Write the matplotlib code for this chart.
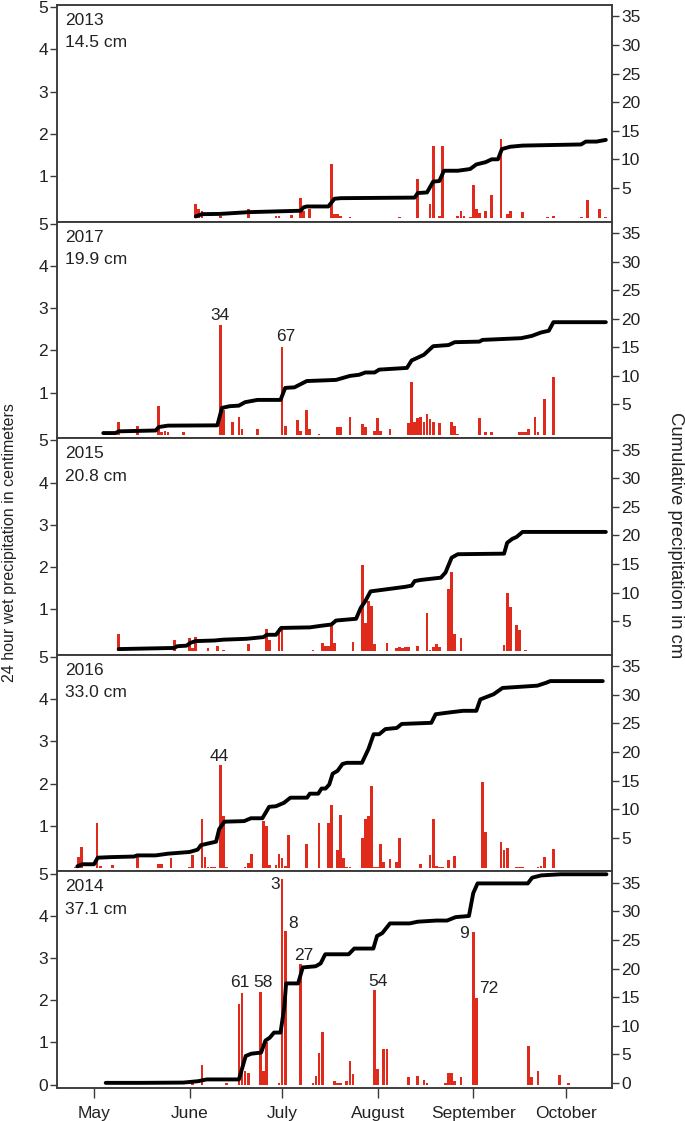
import matplotlib
matplotlib.use("Agg")
import matplotlib.pyplot as plt

plt.rcParams['font.family'] = ['Liberation Sans', 'DejaVu Sans']

# panel order top to bottom
years = ["2013", "2017", "2015", "2016", "2014"]
totals = ["14.5 cm", "19.9 cm", "20.8 cm", "33.0 cm", "37.1 cm"]

month_names = ["May", "June", "July", "August", "September", "October"]
month_days = [121, 152, 182, 213, 244, 274]  # day of year of the 1st

# --- 2013 ---
days_2013 = [154, 155, 156, 162, 171, 180, 181, 185, 188, 189, 191, 198, 199, 200, 201, 204,
             220, 226, 230, 231, 233, 234, 239, 240, 241, 243, 244, 245, 246, 248, 250, 253,
             255, 256, 260, 268, 270, 279, 281, 285, 287]
rain_2013 = [0.33, 0.23, 0.18, 0.05, 0.21, 0.05, 0.05, 0.07, 0.47, 0.18, 0.22, 1.28, 0.10, 0.09, 0.05, 0.02,
             0.02, 0.92, 0.34, 1.71, 0.05, 1.71, 0.05, 0.17, 0.05, 0.04, 0.78, 0.21, 0.13, 0.17, 0.55, 1.87,
             0.10, 0.17, 0.15, 0.02, 0.06, 0.02, 0.44, 0.22, 0.02]
cum_days_2013 = [154, 156, 162, 171, 181, 188, 189, 190, 197, 199, 201, 225, 226, 229, 231, 233, 234.5,
                 239, 243, 245, 248, 250, 252, 253.3, 256, 260, 279, 280.5, 284, 287]
cum_2013 = [0, 0.4, 0.45, 0.75, 0.9, 1.0, 1.6, 1.75, 1.75, 3.1, 3.2, 3.3, 4.1, 4.2, 6.1, 6.2, 8.0,
            8.0, 8.3, 9.1, 9.5, 10.0, 10.0, 11.8, 12.2, 12.4, 12.6, 13.1, 13.1, 13.4]

# --- 2017 ---
days_2017 = [129, 135, 142, 143, 144, 145, 150, 162, 163, 166, 168, 169, 174, 182, 183, 187, 188,
             190, 191, 194, 200, 201, 204, 208, 209, 212, 213, 214, 217, 223, 224, 225, 226, 227,
             228, 229, 230, 231, 233, 237, 238, 239, 246, 248, 250, 259, 260, 261, 262, 264, 265,
             267, 270]
rain_2017 = [0.30, 0.20, 0.68, 0.07, 0.10, 0.06, 0.06, 2.61, 0.58, 0.30, 0.42, 0.14, 0.14, 2.09, 0.22, 0.36, 0.10,
             0.58, 0.14, 0.03, 0.18, 0.18, 0.42, 0.25, 0.18, 0.09, 0.41, 0.10, 0.14, 0.28, 1.26, 0.30, 0.41, 0.42,
             0.30, 0.49, 0.38, 0.30, 0.28, 0.30, 0.20, 0.03, 0.41, 0.06, 0.06, 0.06, 0.06, 0.06, 0.14, 0.42, 0.06,
             0.86, 1.36]
cum_days_2017 = [124, 128, 129, 141, 142, 145, 161, 162.5, 165, 168, 170, 174, 181.5, 183, 186, 190,
                 199.5, 204, 207, 209, 212, 213.5, 222.5, 224, 228, 231, 236, 238, 246, 247, 259.5,
                 263, 266, 268.5, 270, 287]
cum_2017 = [0, 0, 0.3, 0.45, 1.05, 1.3, 1.35, 4.4, 4.7, 4.8, 5.4, 5.8, 5.8, 7.9, 8.0, 9.1,
            9.3, 10.0, 10.2, 10.6, 10.6, 11.1, 11.4, 12.7, 13.7, 15.2, 15.4, 15.9, 16.0, 16.3, 16.6,
            17.0, 17.6, 17.9, 19.4, 19.4]

# --- 2015 ---
days_2015 = [129, 147, 152, 153, 154, 158, 161, 163, 171, 177, 178, 181, 182, 192, 195, 196, 197,
             198, 199, 205, 208, 209, 210, 211, 212, 216, 219, 220, 221, 222, 223, 226, 229, 230,
             231, 232, 233, 236, 237, 238, 240, 254, 255, 256, 258, 259, 261]
rain_2015 = [0.42, 0.26, 0.32, 0.08, 0.34, 0.08, 0.14, 0.04, 0.18, 0.52, 0.26, 0.56, 0.58, 0.04, 0.20, 0.12, 0.12,
             0.64, 0.20, 0.22, 2.04, 0.68, 1.20, 1.08, 0.18, 0.20, 0.08, 0.11, 0.08, 0.11, 0.11, 0.14, 0.90, 0.04,
             0.10, 0.18, 0.10, 1.48, 1.88, 0.42, 0.32, 0.16, 1.38, 1.06, 0.62, 0.50, 0.04]
cum_days_2015 = [129, 147, 148, 151, 152.3, 154, 160, 163, 170.5, 176, 177, 180, 181.7, 191, 195, 198,
                 199.5, 206, 207.5, 209, 210.7, 215, 222, 224, 225, 227, 233.5, 235, 237, 239, 254,
                 255, 256.7, 258, 260, 287]
cum_2015 = [0.1, 0.3, 0.6, 0.7, 1.2, 1.5, 1.6, 1.75, 1.9, 2.2, 2.6, 2.6, 3.8, 3.9, 4.2, 4.4,
            5.1, 5.4, 7.3, 8.5, 10.2, 10.5, 11.0, 11.2, 12.0, 12.2, 12.6, 13.5, 16.1, 16.7, 16.8,
            18.7, 19.4, 19.7, 20.6, 20.6]

# --- 2016 ---
days_2016 = [115, 116, 117, 122, 123, 127, 135, 142, 143, 146, 152, 153, 156, 157, 158, 159, 160,
             162, 163, 164, 170, 171, 172, 176, 177, 178, 180, 181, 182, 183, 184, 190, 194, 197,
             198, 200, 201, 202, 203, 204, 208, 209, 210, 211, 212, 213, 214, 215, 217, 219, 220,
             227, 230, 231, 232, 233, 234, 236, 238, 247, 248, 253, 254, 255, 258, 259, 260, 265,
             266, 267, 270]
rain_2016 = [0.03, 0.26, 0.50, 1.06, 0.04, 0.08, 0.26, 0.10, 0.10, 0.23, 0.03, 0.30, 1.15, 0.26, 0.03, 0.03, 0.03,
             2.43, 1.23, 0.03, 0.03, 0.12, 0.34, 1.12, 0.99, 0.08, 0.08, 0.34, 0.24, 0.05, 0.79, 0.56, 1.06, 1.06,
             1.50, 0.43, 1.25, 0.23, 0.03, 0.03, 0.72, 1.15, 1.23, 1.95, 0.03, 0.03, 0.58, 0.15, 0.22, 0.15, 0.72,
             0.10, 0.30, 1.15, 0.05, 0.03, 0.03, 0.18, 0.28, 2.04, 0.85, 0.62, 0.42, 0.48, 0.03, 0.03, 0.03, 0.03,
             0.04, 0.26, 0.46]
cum_days_2016 = [115.6, 117.3, 121, 122.2, 126.5, 134, 135, 141, 145, 152, 154.6, 155.7, 160.6, 161.6,
                 163.3, 169.7, 171.9, 175.6, 177.8, 180, 182.6, 184.7, 190.1, 191, 193.7, 194.8, 196.1,
                 197.3, 198.4, 200, 201.6, 203, 207.9, 210, 211.7, 213.5, 215.5, 219.2, 220.8, 230.4,
                 231.8, 236, 240.7, 245, 246.3, 250.6, 253.5, 264.8, 267.6, 269, 286]
cum_2016 = [0, 0.35, 0.35, 1.5, 1.6, 1.7, 1.9, 1.9, 2.2, 2.5, 2.9, 3.7, 4.3, 6.5,
            7.8, 7.9, 8.4, 8.4, 10.4, 10.5, 11.1, 12.0, 12.0, 12.7, 12.7, 13.6, 13.6,
            14.3, 16.2, 16.7, 17.9, 18.1, 18.1, 20.5, 23.1, 23.1, 24.0, 24.2, 24.9, 25.1,
            26.6, 26.9, 27.2, 27.2, 29.2, 30.1, 31.2, 31.6, 32.1, 32.4, 32.4]

# --- 2014 ---
days_2014 = [153, 156, 164, 168, 169, 170, 171, 175, 176, 177, 181, 182, 183, 188, 192, 193, 194,
             195, 199, 200, 201, 203, 204, 205, 212, 213, 215, 216, 223, 226, 228, 229, 235, 236,
             237, 238, 240, 244, 245, 262, 263, 265, 272, 275]
rain_2014 = [0.10, 0.46, 0.04, 1.90, 2.17, 0.33, 0.28, 2.20, 0.33, 1.02, 0.04, 4.86, 3.64, 2.85, 0.04, 0.20, 0.76,
             1.25, 0.08, 0.03, 0.03, 0.08, 0.57, 0.24, 2.25, 0.38, 0.85, 0.85, 0.18, 0.20, 0.10, 0.04, 0.04, 0.28,
             0.28, 0.08, 0.18, 3.62, 2.05, 0.92, 0.18, 0.33, 0.22, 0.04]
cum_days_2014 = [124.8, 136, 150, 154.9, 157.5, 168, 170.2, 172, 175.2, 176.6, 178, 179.4, 181.5, 182.7,
                 183.3, 187.2, 188.7, 192.9, 194.5, 196, 203.6, 205.4, 211.6, 212.8, 214.5, 217, 223.4,
                 226, 232, 235.5, 238.3, 242.6, 244, 245.4, 261.7, 263.1, 266, 272.3, 287.2]
cum_2014 = [0, 0, 0.05, 0.3, 0.6, 0.6, 4.7, 5.1, 5.3, 7.4, 7.9, 8.8, 8.8, 13.2,
            17.4, 17.4, 20.2, 20.4, 20.9, 22.5, 22.5, 23.5, 23.5, 25.7, 26.2, 27.9, 27.9,
            28.2, 28.4, 28.4, 29.0, 29.2, 33.2, 34.9, 34.9, 35.9, 36.3, 36.5, 36.5]

# storm labels (text, day, height)
labels_2017 = [("34", 161.7, 2.83), ("67", 183.3, 2.33)]
labels_2016 = [("44", 161.7, 2.65)]
labels_2014 = [("61", 168.3, 2.43), ("58", 175.9, 2.43), ("3", 179.8, 4.75), ("8", 185.6, 3.82),
               ("27", 188.9, 3.07), ("54", 213.0, 2.45), ("9", 241.0, 3.57), ("72", 249.0, 2.27)]

panels = [
    (days_2013, rain_2013, cum_days_2013, cum_2013, []),
    (days_2017, rain_2017, cum_days_2017, cum_2017, labels_2017),
    (days_2015, rain_2015, cum_days_2015, cum_2015, []),
    (days_2016, rain_2016, cum_days_2016, cum_2016, labels_2016),
    (days_2014, rain_2014, cum_days_2014, cum_2014, labels_2014),
]

W, H = 685, 1121
fig = plt.figure(figsize=(W / 100, H / 100), dpi=100)

left_px, right_px = 57, 612
top_px, panel_px = 5, 216.6
bar_color = '#e02a1b'
spine_color = '#3a3a3a'

for i, (days, rain, cdays, cum, labels) in enumerate(panels):
    bottom = 1 - (top_px + panel_px * (i + 1)) / H
    ax = fig.add_axes([left_px / W, bottom, (right_px - left_px) / W, panel_px / H])
    ax2 = ax.twinx()

    ax.bar(days, rain, width=0.9, color=bar_color, linewidth=0)
    ax2.plot(cdays, cum, color='black', lw=2.8, solid_joinstyle='round', solid_capstyle='round')

    ax.set_xlim(109, 289)
    ax.set_ylim(-0.08, 5.05)
    ax2.set_ylim(-0.9, 37)

    last = i == len(panels) - 1
    ax.set_yticks([0, 1, 2, 3, 4, 5] if last else [1, 2, 3, 4, 5])
    ax2.set_yticks([0, 5, 10, 15, 20, 25, 30, 35] if last else [5, 10, 15, 20, 25, 30, 35])
    if last:
        ax.set_xticks(month_days)
        ax.set_xticklabels(month_names)
    else:
        ax.set_xticks([])

    for a in (ax, ax2):
        for s in a.spines.values():
            s.set_color(spine_color)
            s.set_linewidth(1.1)
        a.tick_params(direction='out', length=5, width=1, colors=spine_color,
                      labelcolor='#222222', labelsize=12.5, pad=1.5)
    ax.tick_params(axis='x', length=7, pad=6)

    ax.text(0.015, 0.928, years[i], transform=ax.transAxes, fontsize=12.5,
            va='center', ha='left', color='#222222')
    ax.text(0.015, 0.825, totals[i], transform=ax.transAxes, fontsize=12.5,
            va='center', ha='left', color='#222222')

    for txt, d, y in labels:
        ax.text(d, y, txt, fontsize=12.5, ha='center', va='center', color='#222222')

fig.text(0.014, 1 - 543 / H, "24 hour wet precipitation in centimeters", rotation=90,
         fontsize=11.5, ha='center', va='center', color='#222222')
fig.text(0.986, 1 - 535 / H, "Cumulative precipitation in cm", rotation=270,
         fontsize=13.3, ha='center', va='center', color='#222222')

fig.savefig("out.png", dpi=100)
